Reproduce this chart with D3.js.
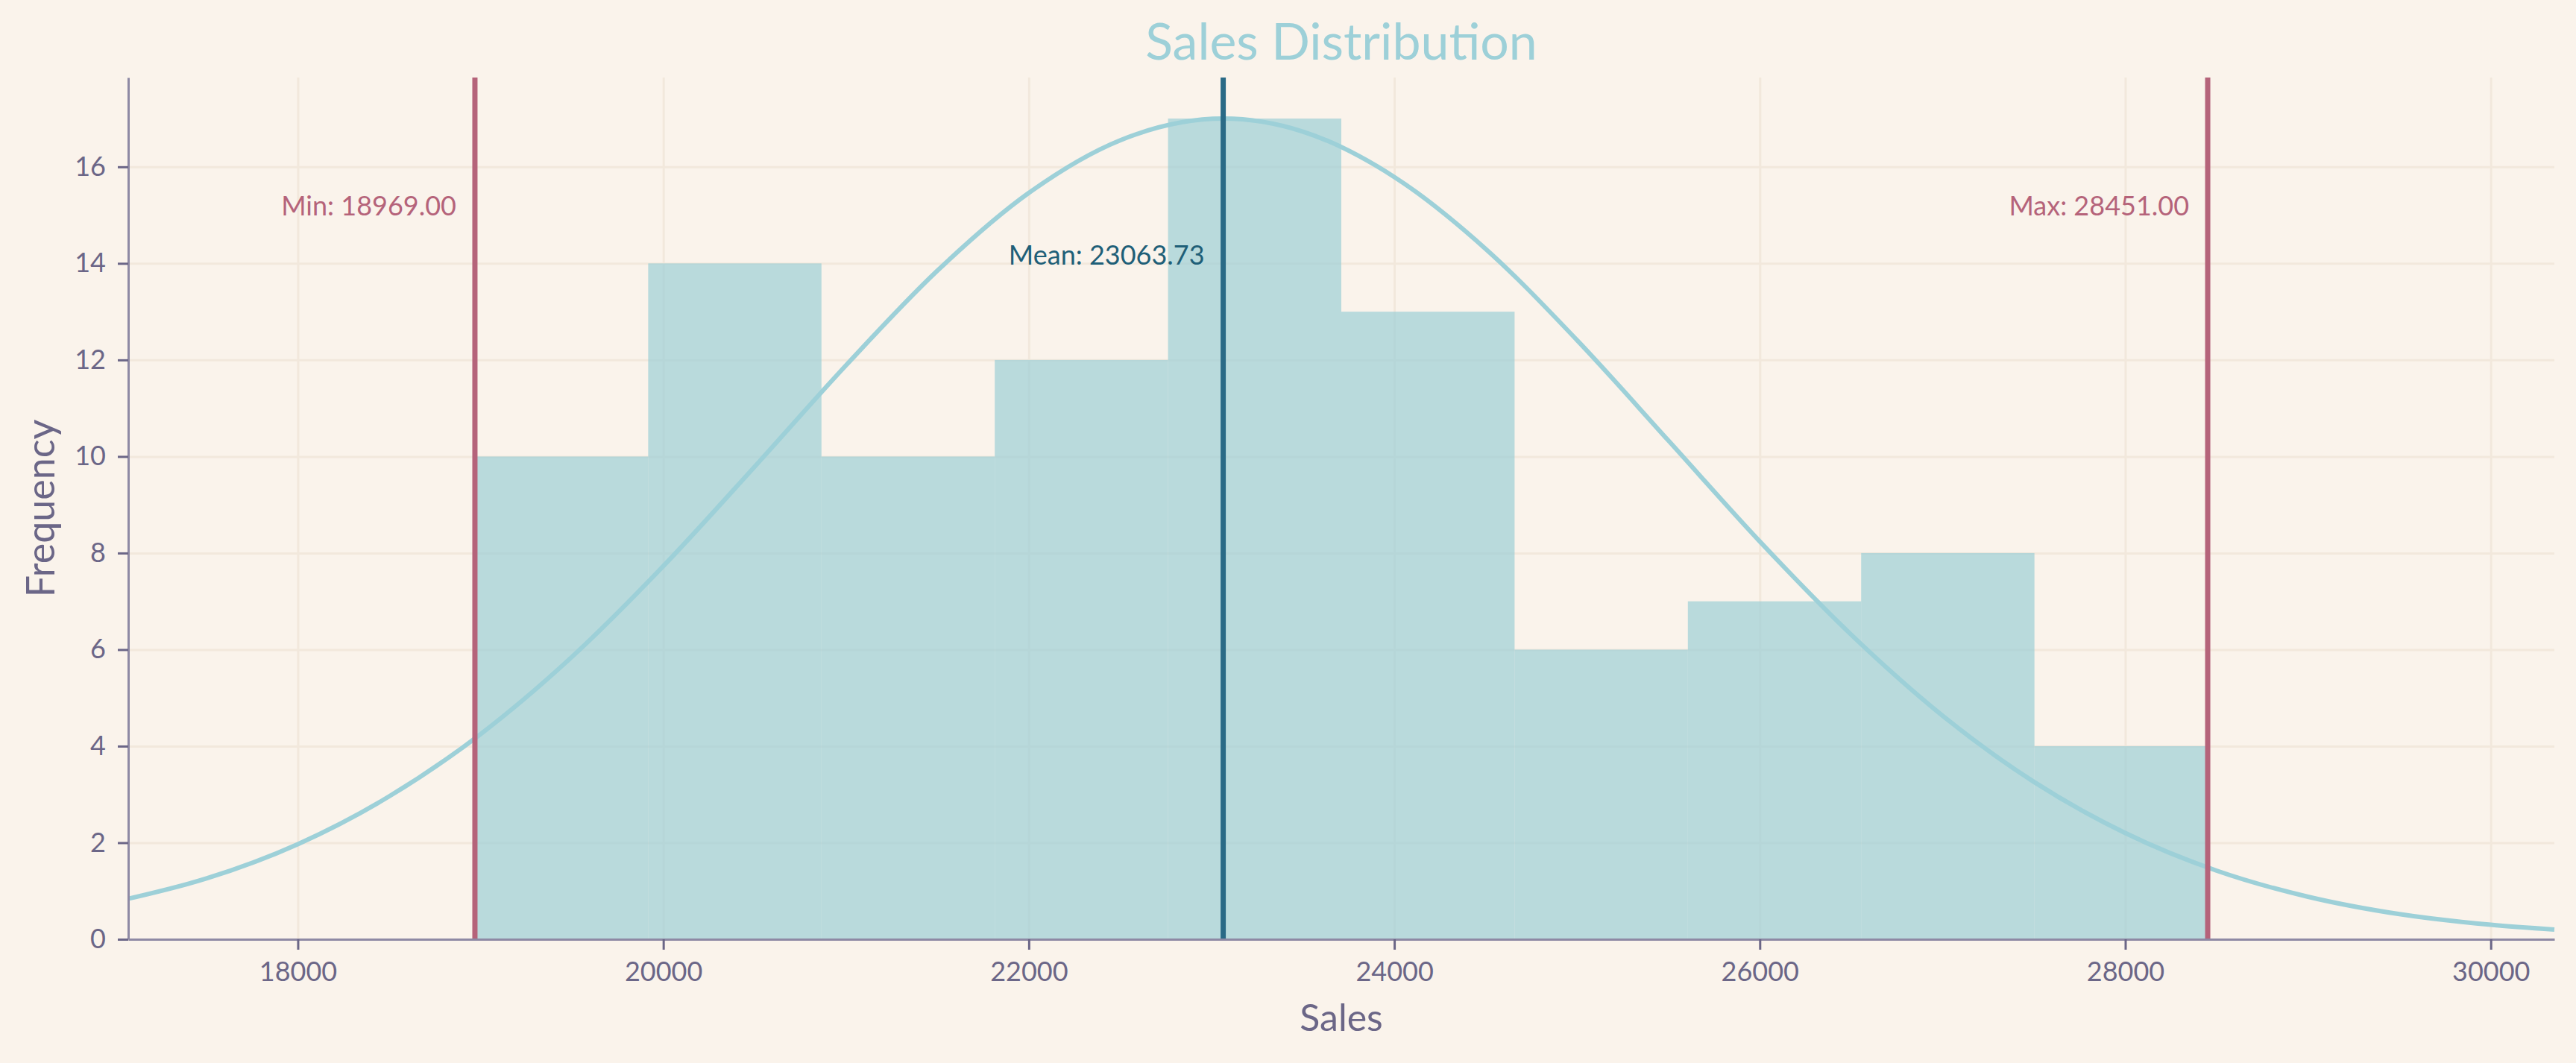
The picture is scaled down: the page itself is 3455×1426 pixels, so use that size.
<!DOCTYPE html>
<html>
<head>
<meta charset="utf-8">
<script src="https://cdn.jsdelivr.net/npm/d3@7"></script>
<style>
  body { margin: 0; background: #faf3eb; }
  text { font-family: "Gill Sans", Lato, "Open Sans", sans-serif; }
</style>
</head>
<body>
<svg id="chart"></svg>
<script>
// Chart size
const width = 3455;
const height = 1426;
const margin = { top: 104, right: 29, bottom: 166, left: 172 };

// Histogram bins (10 equal bins from min to max)
const binEdges = [18969, 19917.2, 20865.4, 21813.6, 22761.8, 23710, 24658.2, 25606.4, 26554.6, 27502.8, 28451];
const binCounts = [10, 14, 10, 12, 17, 13, 6, 7, 8, 4];

// Fitted curve
const curveX = [17072, 17500, 18000, 18500, 19000, 19500, 20000, 20500, 21000, 21500, 22000, 22500,
  23064, 23500, 24000, 24500, 25000, 25500, 26000, 26500, 27000, 27500, 28000, 28500, 29000, 29500, 30000, 30348];
const curveY = [0.84, 1.26, 1.97, 2.96, 4.25, 5.85, 7.73, 9.79, 11.89, 13.85, 15.46, 16.55,
  17.0, 16.73, 15.79, 14.30, 12.41, 10.33, 8.24, 6.31, 4.63, 3.26, 2.20, 1.42, 0.88, 0.52, 0.30, 0.20];

// Reference lines
const refNames = ["Min", "Mean", "Max"];
const refValues = [18969.00, 23063.73, 28451.00];
const refLabelY = [15.19, 14.18, 15.19];
const refColors = ["#b5637a", "#2a6a86", "#b5637a"];

const xTicks = [18000, 20000, 22000, 24000, 26000, 28000, 30000];
const yTicks = [0, 2, 4, 6, 8, 10, 12, 14, 16];

const xDomain = [17072, 30348];
const yMax = 17.85;

const svg = d3.select("#chart")
  .attr("width", width)
  .attr("height", height);

svg.append("rect")
  .attr("width", width)
  .attr("height", height)
  .attr("fill", "#faf3eb");

const x = d3.scaleLinear()
  .domain(xDomain)
  .range([margin.left, width - margin.right]);

const y = d3.scaleLinear()
  .domain([0, yMax])
  .range([height - margin.bottom, margin.top]);

const plotH = height - margin.bottom - margin.top;
const plotW = width - margin.right - margin.left;

// Grid
svg.append("g")
  .attr("class", "grid-x")
  .attr("transform", `translate(0,${height - margin.bottom})`)
  .call(d3.axisBottom(x).tickValues(xTicks).tickSize(-plotH).tickFormat(""))
  .call(g => g.select(".domain").remove())
  .selectAll("line")
  .attr("stroke", "#f2e8dc")
  .attr("stroke-width", 3);

svg.append("g")
  .attr("class", "grid-y")
  .attr("transform", `translate(${margin.left},0)`)
  .call(d3.axisLeft(y).tickValues(yTicks).tickSize(-plotW).tickFormat(""))
  .call(g => g.select(".domain").remove())
  .selectAll("line")
  .attr("stroke", "#f2e8dc")
  .attr("stroke-width", 3);

// Histogram bars
svg.append("g")
  .selectAll("rect")
  .data(binCounts)
  .enter().append("rect")
  .attr("x", (d, i) => x(binEdges[i]))
  .attr("width", (d, i) => x(binEdges[i + 1]) - x(binEdges[i]))
  .attr("y", d => y(d))
  .attr("height", d => y(0) - y(d))
  .attr("fill", "#9dcfd6")
  .attr("fill-opacity", 0.7);

// Fitted curve
const line = d3.line()
  .x((d, i) => x(curveX[i]))
  .y(d => y(d))
  .curve(d3.curveMonotoneX);

svg.append("path")
  .datum(curveY)
  .attr("d", line)
  .attr("fill", "none")
  .attr("stroke", "#9dd0d8")
  .attr("stroke-width", 6);

// Reference lines and labels
const refs = svg.append("g")
  .selectAll("g")
  .data(refValues)
  .enter().append("g");

refs.append("line")
  .attr("x1", d => x(d))
  .attr("x2", d => x(d))
  .attr("y1", y(yMax))
  .attr("y2", y(0))
  .attr("stroke", (d, i) => refColors[i])
  .attr("stroke-width", 7);

refs.append("text")
  .attr("x", d => x(d) - 25)
  .attr("y", (d, i) => y(refLabelY[i]))
  .attr("dy", "0.36em")
  .attr("text-anchor", "end")
  .attr("fill", (d, i) => refNames[i] === "Mean" ? "#1f5f78" : refColors[i])
  .style("font-size", "36px")
  .text((d, i) => `${refNames[i]}: ${d.toFixed(2)}`);

// Axes
const axisColor = "#8e89a4";
const labelColor = "#6b6687";

const xAxis = svg.append("g")
  .attr("transform", `translate(0,${height - margin.bottom})`)
  .call(d3.axisBottom(x).tickValues(xTicks).tickSize(14).tickPadding(16).tickFormat(d3.format("d")).tickSizeOuter(0));

const yAxis = svg.append("g")
  .attr("transform", `translate(${margin.left},0)`)
  .call(d3.axisLeft(y).tickValues(yTicks).tickSize(14).tickPadding(16).tickSizeOuter(0));

[xAxis, yAxis].forEach(g => {
  g.select(".domain").attr("stroke", axisColor).attr("stroke-width", 3);
  g.selectAll(".tick line").attr("stroke", labelColor).attr("stroke-width", 3);
  g.selectAll(".tick text")
    .attr("fill", labelColor)
    .style("font-size", "36px")
    .style("font-family", "\"Gill Sans\", Lato, sans-serif");
});

// Axis titles
svg.append("text")
  .attr("x", margin.left + plotW / 2)
  .attr("y", 1383)
  .attr("text-anchor", "middle")
  .attr("fill", labelColor)
  .style("font-size", "50px")
  .text("Sales");

svg.append("text")
  .attr("transform", `translate(73,${margin.top + plotH / 2}) rotate(-90)`)
  .attr("text-anchor", "middle")
  .attr("fill", labelColor)
  .style("font-size", "52px")
  .text("Frequency");

// Title
svg.append("text")
  .attr("x", margin.left + plotW / 2)
  .attr("y", 80)
  .attr("text-anchor", "middle")
  .attr("fill", "#9dd0d8")
  .style("font-size", "68px")
  .text("Sales Distribution");
</script>
</body>
</html>
